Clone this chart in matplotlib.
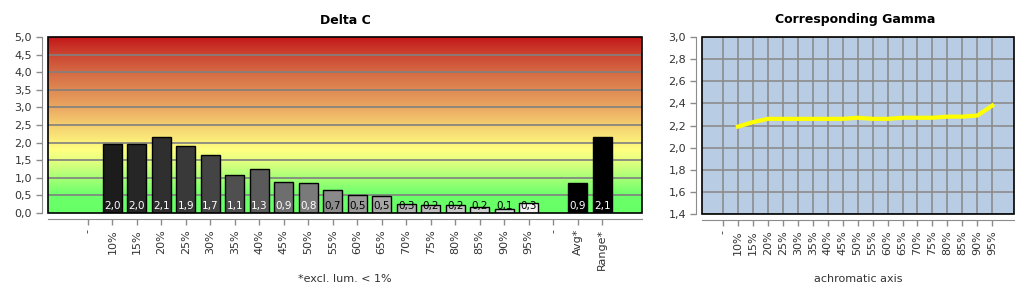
import numpy as np
import matplotlib
matplotlib.use('Agg')
import matplotlib.pyplot as plt
from matplotlib.colors import LinearSegmentedColormap
from matplotlib.patches import Rectangle

# data
dc_cats = ['-', '10%', '15%', '20%', '25%', '30%', '35%', '40%', '45%', '50%', '55%',
           '60%', '65%', '70%', '75%', '80%', '85%', '90%', '95%', '-', 'Avg*', 'Range*']
dc_vals = [None, 1.95, 1.95, 2.15, 1.90, 1.64, 1.08, 1.25, 0.88, 0.85, 0.65,
           0.51, 0.49, 0.26, 0.23, 0.23, 0.17, 0.11, 0.29, None, 0.86, 2.16]
dc_labels = [None, '2,0', '2,0', '2,1', '1,9', '1,7', '1,1', '1,3', '0,9', '0,8', '0,7',
             '0,5', '0,5', '0,3', '0,2', '0,2', '0,2', '0,1', '0,3', None, '0,9', '2,1']
dc_colors = [None, '#1c1c1c', '#262626', '#2f2f2f', '#393939', '#444444', '#4f4f4f',
             '#5a5a5a', '#6e6e6e', '#7a7a7a', '#8a8a8a', '#999999', '#a6a6a6',
             '#b2b2b2', '#bcbcbc', '#c6c6c6', '#d0d0d0', '#dcdcdc', '#f2f2f2',
             None, '#000000', '#000000']

gm_cats = ['-', '10%', '15%', '20%', '25%', '30%', '35%', '40%', '45%', '50%',
           '55%', '60%', '65%', '70%', '75%', '80%', '85%', '90%', '95%']
gm_vals = [np.nan, 2.19, 2.23, 2.26, 2.26, 2.26, 2.26, 2.26, 2.26, 2.27,
           2.26, 2.26, 2.27, 2.27, 2.27, 2.28, 2.28, 2.29, 2.38]

W, H = 1036, 300
fig = plt.figure(figsize=(W / 100, H / 100), dpi=100)

def px_axes(l, t, r, b):
    return fig.add_axes([l / W, 1 - b / H, (r - l) / W, (b - t) / H])

tick_col = '#333333'
axis_col = '#8c8c8c'
fs = 8

def style(ax):
    for s in ['top', 'right']:
        ax.spines[s].set_visible(False)
    for s in ['left', 'bottom']:
        ax.spines[s].set_position(('outward', 4))
        ax.spines[s].set_color(axis_col)
    ax.tick_params(colors=axis_col, labelcolor=tick_col, labelsize=fs, length=4, width=1)
    ax.add_patch(Rectangle((0, 0), 1, 1, transform=ax.transAxes, fill=False,
                           ec='black', lw=1.2, zorder=5, clip_on=False))

# ---- Delta C
ax = px_axes(48, 37, 642, 213)
style(ax)
grad = LinearSegmentedColormap.from_list('bg', [
    (0.0, '#66ff66'), (0.1, '#6cff6a'), (0.2, '#a8ff76'), (0.3, '#e6ff80'),
    (0.36, '#ffff80'), (0.5, '#f5cf70'), (0.6, '#eba862'), (0.7, '#df8a52'),
    (0.8, '#d56a44'), (0.9, '#cc4632'), (1.0, '#c41818')])
ax.imshow(np.linspace(0, 1, 256).reshape(-1, 1), cmap=grad, aspect='auto',
          origin='lower', extent=(-1.63, 22.63, 0, 5), zorder=0)
ax.set_xlim(-1.63, 22.63)
ax.set_ylim(0, 5)
ax.set_yticks(np.arange(0, 5.01, 0.5))
ax.set_yticklabels([f'{v:.1f}'.replace('.', ',') for v in np.arange(0, 5.01, 0.5)])
for v in np.arange(0.5, 5.0, 0.5):
    ax.axhline(v, color='#808080', lw=1.2, zorder=1)
x = np.arange(len(dc_cats))
for i, (v, lab, c) in enumerate(zip(dc_vals, dc_labels, dc_colors)):
    if v is None:
        continue
    ax.bar(i, v, width=0.78, color=c, edgecolor='black', lw=1, zorder=2)
    shade = int(c[1:3], 16)
    ax.text(i, 0.06, lab, ha='center', va='bottom', fontsize=7.5,
            color='white' if shade < 0x80 else 'black', zorder=3)
ax.set_xticks(x)
ax.set_xticklabels(dc_cats, rotation=90)
ax.set_xlabel('*excl. lum. < 1%', fontsize=fs, color=tick_col, labelpad=3)
fig.text(345 / W, 1 - 20 / H, 'Delta C', ha='center', va='center', fontsize=9, fontweight='bold')

# ---- Corresponding Gamma
ax2 = px_axes(702, 37, 1014, 214)
style(ax2)
ax2.set_facecolor('#b8cce4')
ax2.set_xlim(-1.4, 19.45)
ax2.set_ylim(1.4, 3.0)
yt = np.arange(1.4, 3.001, 0.2)
ax2.set_yticks(yt)
ax2.set_yticklabels([f'{v:.1f}'.replace('.', ',') for v in yt])
ax2.set_xticks(np.arange(len(gm_cats)))
ax2.set_xticklabels(gm_cats, rotation=90)
ax2.grid(True, color='#8c8c8c', lw=1.2, zorder=1)
ax2.set_axisbelow(True)
ax2.plot(np.arange(len(gm_cats)), gm_vals, color='#ffff00', lw=3, zorder=3)
ax2.set_xlabel('achromatic axis', fontsize=fs, color=tick_col, labelpad=14)
fig.text(855 / W, 1 - 20 / H, 'Corresponding Gamma', ha='center', va='center', fontsize=9, fontweight='bold')

fig.savefig('out.png', dpi=100)
